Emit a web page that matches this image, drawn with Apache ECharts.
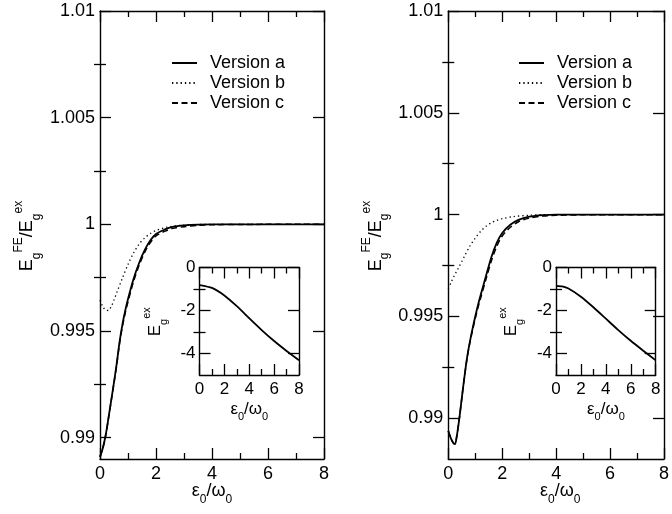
<!DOCTYPE html>
<html>
<head>
<meta charset="utf-8">
<script src="https://cdn.jsdelivr.net/npm/echarts@6/dist/echarts.min.js"></script>
<style>
  html, body { margin: 0; padding: 0; background: #fff; }
  #chart { width: 672px; height: 514px; }
</style>
</head>
<body>
<div id="chart"></div>
<script>
// ---- data: ratio E_g^FE / E_g^ex versus eps0/omega0 ----
const seriesNames = ['Version a', 'Version b', 'Version c'];

// left panel
const xLeftA = [0, 0.1, 0.2, 0.3, 0.4, 0.5, 0.6, 0.7, 0.8, 0.9, 1.0, 1.2, 1.4, 1.6, 1.8, 2.0, 2.3, 2.6, 3.0, 3.5, 4, 5, 6, 7, 8];
const yLeftA = [0.98910, 0.98950, 0.99010, 0.99090, 0.99175, 0.99260, 0.99350, 0.99450, 0.99530, 0.99595, 0.99650, 0.99745, 0.99820, 0.99880, 0.99925, 0.99955, 0.99975, 0.99988, 0.99995, 0.99999, 1, 1, 1, 1, 1];
const yLeftC = [0.98910, 0.98950, 0.99009, 0.99088, 0.99172, 0.99256, 0.99345, 0.99443, 0.99521, 0.99584, 0.99637, 0.99733, 0.99809, 0.99870, 0.99915, 0.99946, 0.99967, 0.99981, 0.99989, 0.99995, 0.99998, 0.99999, 1, 1, 1];
const xLeftB = [0, 0.1, 0.2, 0.3, 0.4, 0.5, 0.6, 0.8, 1.0, 1.2, 1.4, 1.6, 1.8, 2.0, 2.4, 2.8, 3.5, 4, 5, 6, 7, 8];
const yLeftB = [0.99645, 0.99615, 0.99598, 0.99596, 0.99615, 0.99645, 0.99680, 0.99748, 0.99812, 0.99866, 0.99908, 0.99937, 0.99957, 0.99971, 0.99987, 0.99994, 0.99999, 1, 1, 1, 1, 1];

// right panel
const xRightA = [0, 0.1, 0.2, 0.25, 0.3, 0.4, 0.5, 0.6, 0.7, 0.8, 0.9, 1.0, 1.1, 1.2, 1.4, 1.6, 1.8, 2.0, 2.3, 2.6, 3.0, 3.5, 4, 5, 6, 7, 8];
const yRightA = [0.98938, 0.98900, 0.98876, 0.98874, 0.98900, 0.98990, 0.99098, 0.99205, 0.99300, 0.99375, 0.99440, 0.99500, 0.99555, 0.99605, 0.99700, 0.99792, 0.99862, 0.99910, 0.99950, 0.99974, 0.99990, 0.99998, 1, 1, 1, 1, 1];
const yRightC = [0.98938, 0.98900, 0.98876, 0.98874, 0.98900, 0.98990, 0.99098, 0.99205, 0.99298, 0.99371, 0.99433, 0.99490, 0.99543, 0.99591, 0.99684, 0.99774, 0.99845, 0.99895, 0.99938, 0.99965, 0.99983, 0.99993, 0.99997, 0.99999, 1, 1, 1];
const xRightB = [0, 0.1, 0.2, 0.3, 0.4, 0.5, 0.6, 0.8, 1.0, 1.2, 1.4, 1.6, 1.8, 2.0, 2.4, 3.0, 3.5, 4, 5, 6, 7, 8];
const yRightB = [0.99636, 0.99666, 0.99694, 0.99720, 0.99744, 0.99770, 0.99796, 0.99845, 0.99885, 0.99918, 0.99943, 0.99960, 0.99972, 0.99980, 0.99990, 0.99997, 1, 1, 1, 1, 1, 1];

// insets: exact ground-state energy E_g^ex
const xInsetLeft = [0, 1, 2, 3, 4, 5, 6, 7, 8];
const yInsetLeft = [-0.82, -0.95, -1.30, -1.80, -2.36, -2.91, -3.42, -3.88, -4.31];
const xInsetRight = [0, 0.5, 1, 2, 3, 4, 5, 6, 7, 8];
const yInsetRight = [-0.85, -0.88, -0.98, -1.36, -1.85, -2.38, -2.91, -3.41, -3.87, -4.32];

// tick values
const mainMajorTicks = [0.99, 0.995, 1, 1.005, 1.01];
const mainMinorTicks = [0.9925, 0.9975, 1.0025, 1.0075];
const insetMajorTicks = [-4, -2, 0];
const insetMinorTicks = [-3, -1];

// ---- styling helpers ----
const FONT = '"Liberation Sans", Arial, Helvetica, sans-serif';
const INK = '#000';
const FRAME_W = 1.4;
const tickLine = { color: INK, width: 1.3 };

function pairs(xs, ys) { return xs.map((x, i) => [x, ys[i]]); }

function makeXAxes(g, fontSize, margin) {
  const base = {
    type: 'value', gridIndex: g, min: 0, max: 8, interval: 2,
    axisLine: { show: true, onZero: false, lineStyle: { color: INK, width: FRAME_W } },
    axisTick: { show: true, inside: true, length: 11, lineStyle: tickLine },
    minorTick: { show: true, splitNumber: 2, length: 6, lineStyle: tickLine },
    splitLine: { show: false }, minorSplitLine: { show: false }
  };
  return [
    Object.assign({}, base, { position: 'bottom',
      axisLabel: { show: true, color: INK, fontSize: fontSize, fontFamily: FONT, margin: margin } }),
    Object.assign({}, base, { position: 'top', axisLabel: { show: false } })
  ];
}

function makeYAxes(g, min, max, major, minor, fontSize, margin) {
  const base = { type: 'value', gridIndex: g, min: min, max: max, splitLine: { show: false } };
  const frame = { show: true, onZero: false, lineStyle: { color: INK, width: FRAME_W } };
  const majorTick = { show: true, inside: true, length: 11, customValues: major, lineStyle: tickLine };
  const minorTick = { show: true, inside: true, length: 6, customValues: minor, lineStyle: tickLine };
  return [
    Object.assign({}, base, { position: 'left', axisLine: frame, axisTick: majorTick,
      axisLabel: { show: true, customValues: major, color: INK, fontSize: fontSize,
                   fontFamily: FONT, margin: margin, formatter: v => String(v) } }),
    Object.assign({}, base, { position: 'left', axisLine: { show: false }, axisTick: minorTick, axisLabel: { show: false } }),
    Object.assign({}, base, { position: 'right', axisLine: frame, axisTick: majorTick, axisLabel: { show: false } }),
    Object.assign({}, base, { position: 'right', axisLine: { show: false }, axisTick: minorTick, axisLabel: { show: false } })
  ];
}

const lineStyles = {
  'Version a': { color: INK, width: 1.8, type: 'solid' },
  'Version b': { color: INK, width: 1.3, type: [1.3, 3] },
  'Version c': { color: INK, width: 1.5, type: [6, 3.5] }
};

function curve(name, g, xs, ys) {
  return {
    type: 'line', name: name, xAxisIndex: 2 * g, yAxisIndex: 4 * g,
    data: pairs(xs, ys), symbol: 'none', smooth: 0.3,
    lineStyle: lineStyles[name], itemStyle: { color: INK }
  };
}

// rich-text titles with sub/superscripts
const richMain = (fs, lh) => ({
  m: { fontSize: fs, fontFamily: FONT, fill: INK, lineHeight: lh },
  s: { fontSize: Math.round(fs * 0.67), fontFamily: FONT, fill: INK, verticalAlign: 'bottom' },
  p: { fontSize: Math.round(fs * 0.67), fontFamily: FONT, fill: INK, verticalAlign: 'top' }
});
const ratioTitle = '{m|E}{s|g}{p|FE}{m|/E}{s|g}{p|ex}';
const exTitle = '{m|E}{s|g}{p|ex}';
const epsTitle = '{m|ε}{s|0}{m|/ω}{s|0}';

function titleText(text, x, y, fs, lh, rotated) {
  return {
    type: 'text', x: x, y: y, rotation: rotated ? Math.PI / 2 : 0, silent: true,
    style: { text: text, rich: richMain(fs, lh), fill: INK, align: 'center', verticalAlign: 'middle' }
  };
}

function legendAt(left) {
  return {
    data: seriesNames, orient: 'vertical', left: left, top: 49,
    itemWidth: 25, itemHeight: 14, itemGap: 2, selectedMode: false,
    itemStyle: { opacity: 0 },
    textStyle: { color: INK, fontSize: 18, fontFamily: FONT, padding: [0, 0, 0, 8] }
  };
}

const option = {
  animation: false,
  backgroundColor: '#fff',
  grid: [
    { left: 100, top: 11, width: 224, height: 448 },
    { left: 199.5, top: 267.5, width: 99.5, height: 107.5 },
    { left: 448.3, top: 11, width: 224, height: 448 },
    { left: 556, top: 267.5, width: 99.7, height: 107.5 }
  ],
  xAxis: [].concat(
    makeXAxes(0, 18, 6),
    makeXAxes(1, 17, 6),
    makeXAxes(2, 18, 6),
    makeXAxes(3, 17, 6)
  ),
  yAxis: [].concat(
    makeYAxes(0, 0.989, 1.01, mainMajorTicks, mainMinorTicks, 18, 5),
    makeYAxes(1, -5, 0, insetMajorTicks, insetMinorTicks, 17, 4),
    makeYAxes(2, 0.988, 1.01, mainMajorTicks, mainMinorTicks, 18, 5),
    makeYAxes(3, -5, 0, insetMajorTicks, insetMinorTicks, 17, 4)
  ),
  legend: [legendAt(166), legendAt(513)],
  series: [
    curve('Version a', 0, xLeftA, yLeftA),
    curve('Version b', 0, xLeftB, yLeftB),
    curve('Version c', 0, xLeftA, yLeftC),
    Object.assign(curve('Version a', 1, xInsetLeft, yInsetLeft), { name: 'Eex left', smooth: 0.2 }),
    curve('Version a', 2, xRightA, yRightA),
    curve('Version b', 2, xRightB, yRightB),
    curve('Version c', 2, xRightA, yRightC),
    Object.assign(curve('Version a', 3, xInsetRight, yInsetRight), { name: 'Eex right', smooth: 0.2 })
  ],
  graphic: [
    titleText(ratioTitle, 27.5, 236, 18, 30, true),
    titleText(ratioTitle, 375.8, 236, 18, 30, true),
    titleText(epsTitle, 212, 491.5, 18, 28, false),
    titleText(epsTitle, 560.3, 491.5, 18, 28, false),
    titleText(exTitle, 155, 321.7, 17, 28, true),
    titleText(exTitle, 511.5, 321.7, 17, 28, true),
    titleText(epsTitle, 249.3, 409.6, 17, 26, false),
    titleText(epsTitle, 605.9, 409.6, 17, 26, false)
  ]
};

const chart = echarts.init(document.getElementById('chart'), null, { renderer: 'canvas' });
chart.setOption(option);
</script>
</body>
</html>
